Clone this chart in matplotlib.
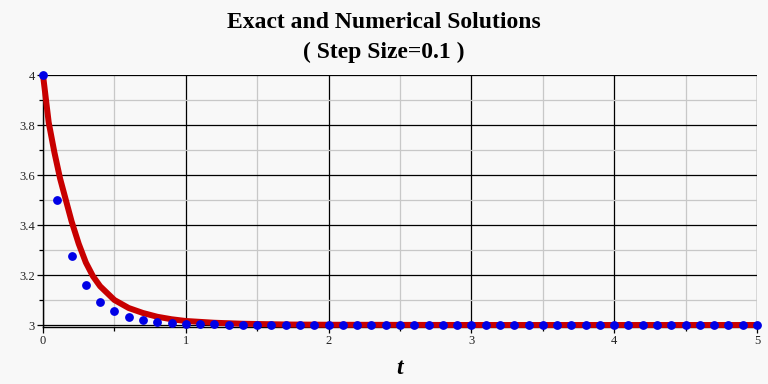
import matplotlib
matplotlib.use('Agg')
import matplotlib.pyplot as plt
from matplotlib.ticker import MultipleLocator, FormatStrFormatter

# exact solution
exact_t = [0, 0.04, 0.08, 0.12, 0.16, 0.2, 0.25, 0.3, 0.35, 0.4, 0.5, 0.6,
           0.7, 0.8, 0.9, 1.0, 1.2, 1.4, 1.7, 2.0, 3.0, 4.0, 5.0]
exact_y = [4.0, 3.81, 3.69, 3.585, 3.50, 3.415, 3.325, 3.25, 3.195, 3.155,
           3.10, 3.068, 3.048, 3.033, 3.023, 3.016, 3.009, 3.005, 3.002,
           3.001, 3.0, 3.0, 3.0]

# numerical solution, step size 0.1
num_t = [round(0.1 * i, 1) for i in range(51)]
num_y = [4.0, 3.5, 3.276, 3.159, 3.093, 3.056, 3.033, 3.021, 3.012, 3.008,
         3.005, 3.004, 3.003, 3.002, 3.001, 3.001] + [3.0] * 35

bg = '#f8f8f8'
serif = ['Liberation Serif', 'DejaVu Serif']

fig = plt.figure(figsize=(7.68, 3.84), dpi=100, facecolor=bg)
ax = fig.add_axes([43 / 768, 1 - 327 / 384, 714 / 768, 252 / 384])
ax.set_facecolor(bg)

ax.plot(exact_t, exact_y, color='#c80000', lw=4.3, zorder=3,
        solid_capstyle='butt', clip_on=False)
ax.plot(num_t, num_y, 'o', color='#0000e6', ms=5.3, mec='#0000e6',
        zorder=4, clip_on=False)

ax.set_xlim(0, 5)
ax.set_ylim(2.992, 4.0)

ax.xaxis.set_major_locator(MultipleLocator(1))
ax.xaxis.set_minor_locator(MultipleLocator(0.5))
ax.yaxis.set_minor_locator(MultipleLocator(0.1))
ax.set_yticks([3.0, 3.2, 3.4, 3.6, 3.8, 4.0])
ax.yaxis.set_major_formatter(FormatStrFormatter('%g'))

ax.grid(which='major', color='black', lw=0.9, zorder=1)
ax.grid(which='minor', color='#c8c8c8', lw=0.9, zorder=0)
ax.set_axisbelow(True)

for s in ('top', 'right'):
    ax.spines[s].set_visible(False)
for s in ('left', 'bottom'):
    ax.spines[s].set_color('black')
    ax.spines[s].set_linewidth(1.0)

ax.tick_params(which='major', length=4, width=0.9, color='black',
               labelsize=9, labelcolor='#222222', pad=2)
ax.tick_params(which='minor', length=3, width=0.9, color='black')
for lab in ax.get_xticklabels() + ax.get_yticklabels():
    lab.set_family(serif)

ax.set_xlabel('t', fontsize=17, fontweight='bold', style='italic',
              family=serif, labelpad=8)

fig.text(0.5, 1 - 22 / 384, 'Exact and Numerical Solutions', ha='center',
         va='center', fontsize=17, fontweight='bold', family=serif)
fig.text(0.5, 1 - 52 / 384, '( Step Size=0.1 )', ha='center', va='center',
         fontsize=17, fontweight='bold', family=serif)

fig.savefig('out.png', dpi=100, facecolor=bg)
